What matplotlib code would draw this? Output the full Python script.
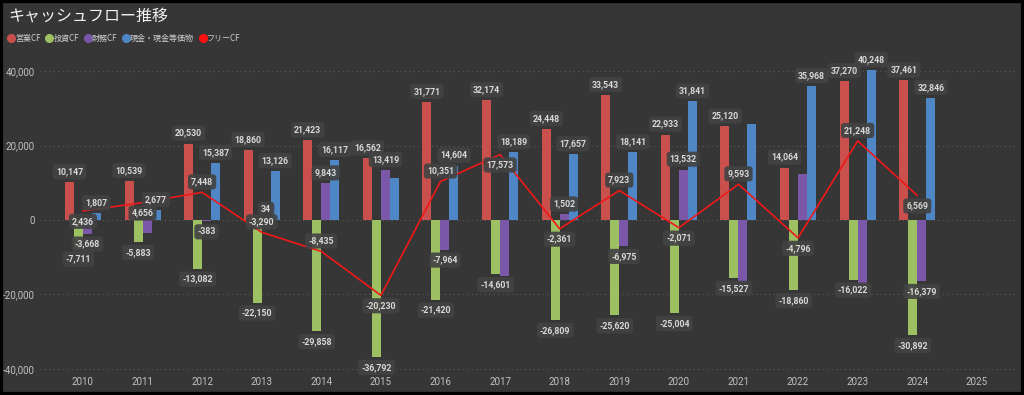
import numpy as np
import matplotlib
matplotlib.use("Agg")
import matplotlib.pyplot as plt
from matplotlib.lines import Line2D
from matplotlib.patches import Rectangle

plt.rcParams['font.family'] = ['Noto Sans CJK JP', 'DejaVu Sans']

# data (百万円)
years = ["2010", "2011", "2012", "2013", "2014", "2015", "2016", "2017",
         "2018", "2019", "2020", "2021", "2022", "2023", "2024", "2025"]
op_cf = [10147, 10539, 20530, 18860, 21423, 16562, 31771, 32174,
         24448, 33543, 22933, 25120, 14064, 37270, 37461]
inv_cf = [-7711, -5883, -13082, -22150, -29858, -36792, -21420, -14601,
          -26809, -25620, -25004, -15527, -18860, -16022, -30892]
fin_cf = [-3668, -3600, -383, 34, 9843, 13419, -7964, -14900,
          1502, -6975, 13532, -16750, 12450, -17300, -16379]
cash = [1807, 2677, 15387, 13126, 16117, 11200, 14604, 18189,
        17657, 18141, 31841, 25800, 35968, 40248, 32846]
free_cf = [2436, 4656, 7448, -3290, -8435, -20230, 10351, 17573,
           -2361, 7923, -2071, 9593, -4796, 21248, 6569]

series = [("営業CF", op_cf, "#C9504D"),
          ("投資CF", inv_cf, "#9CC062"),
          ("財務CF", fin_cf, "#7A57A8"),
          ("現金・現金等価物", cash, "#4E86C6")]
line_color = "#F01818"

# labels that the original chart hides (index of year)
hidden = {"財務CF": [1, 7, 11, 12, 13], "現金・現金等価物": [5, 11]}
# free CF label above (1) or below (-1) the point
fcf_side = [-1, -1, 1, 1, 1, -1, 1, -1, -1, 1, -1, 1, -1, 1, -1]

bg = "#363636"
txt = "#d8d8d8"
num_font = ['Roboto', 'DejaVu Sans']
box = dict(boxstyle="round,pad=0.35,rounding_size=0.35", fc="#434343", ec="none", alpha=0.92)

fig = plt.figure(figsize=(10.24, 3.95), dpi=100, facecolor=bg)
ax = fig.add_axes([40/1024, 25/395, 975/1024, 315/395])
ax.set_facecolor(bg)

x = np.arange(len(years))
n = len(op_cf)
w = 0.151
for i, (name, vals, col) in enumerate(series):
    xs = x[:n] + (i - 1.5) * w
    ax.bar(xs, vals, width=w, color=col, zorder=2)
    for j, v in enumerate(vals):
        if j in hidden.get(name, []):
            continue
        off = 7.5 if v >= 0 else -7.5
        ax.annotate(f"{v:,}", (xs[j], v), xytext=(0, off), textcoords="offset points",
                    ha="center", va="center", fontsize=6.3, color=txt,
                    family=num_font, weight="bold", bbox=box, zorder=5)

ax.plot(x[:n], free_cf, color=line_color, lw=1.2, zorder=4)
for j, v in enumerate(free_cf):
    ax.annotate(f"{v:,}", (x[j], v), xytext=(0, 7.5 * fcf_side[j]), textcoords="offset points",
                ha="center", va="center", fontsize=6.3, color=txt,
                family=num_font, weight="bold", bbox=box, zorder=6)

ax.set_xlim(-0.72, 15.64)
ax.set_ylim(-40270, 44300)
ax.set_yticks([-40000, -20000, 0, 20000, 40000])
ax.set_yticklabels([f"{t:,}" for t in [-40000, -20000, 0, 20000, 40000]], family=num_font)
ax.set_xticks(x)
ax.set_xticklabels(years, family=num_font)
ax.tick_params(axis="both", length=0, colors="#c2c2c2", labelsize=7)
ax.tick_params(axis="y", pad=4)
ax.tick_params(axis="x", pad=5)
ax.grid(axis="y", color="#5c5c5c", linestyle=(0, (1, 3)), lw=0.8, zorder=0)
for s in ax.spines.values():
    s.set_visible(False)

fig.text(8/1024, 1 - 16/395, "キャッシュフロー推移", fontsize=11.5, color="#f2f2f2",
         ha="left", va="center")

handles = [Line2D([], [], marker="o", ls="", color=c, markersize=5.5) for _, _, c in series]
handles.append(Line2D([], [], marker="o", ls="", color="#FF1010", markersize=5.5))
labels = [s[0] for s in series] + ["フリーCF"]
fig.legend(handles, labels, loc="center left", bbox_to_anchor=(3/1024, 1 - 38/395),
           ncol=5, frameon=False, fontsize=5.8, labelcolor="#cfcfcf",
           handletextpad=0.0, columnspacing=0.6, borderpad=0, handlelength=1.0)

fig.patches.append(Rectangle((0, 0), 1, 1, transform=fig.transFigure, fill=False,
                             ec="black", lw=4.5))

fig.savefig("out.png", dpi=100, facecolor=bg)
